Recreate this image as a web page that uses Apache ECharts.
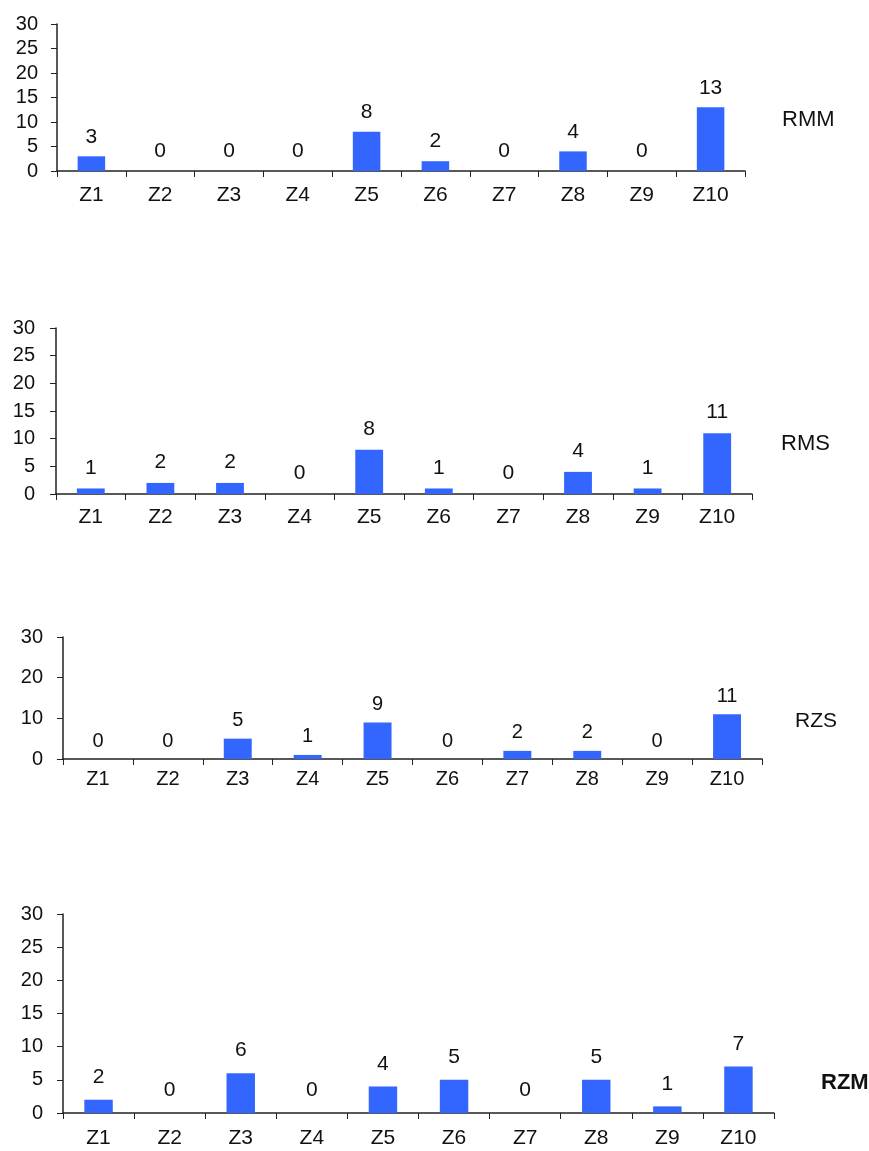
<!DOCTYPE html>
<html><head><meta charset="utf-8">
<script src="https://cdn.jsdelivr.net/npm/echarts@6/dist/echarts.min.js"></script>
<style>html,body{margin:0;padding:0;background:#fff}#c{width:869px;height:1151px}</style>
</head><body><div id="c"></div>
<script>
const categories = ['Z1','Z2','Z3','Z4','Z5','Z6','Z7','Z8','Z9','Z10'];
const panelNames = ['RMM','RMS','RZS','RZM'];
const rmm = [3,0,0,0,8,2,0,4,0,13];
const rms = [1,2,2,0,8,1,0,4,1,11];
const rzs = [0,0,5,1,9,0,2,2,0,11];
const rzm = [2,0,6,0,4,5,0,5,1,7];
const yIntervals = [5,5,10,5];
const yMax = 30;

const seriesData = [rmm, rms, rzs, rzm];
const layout = [
  {left:57, width:688, top:24, height:147, yf:20, xf:21, vf:21, dist:9, xm:14, ym:19, name:{x:782,y:121,f:22,bold:false}},
  {left:56, width:696, top:328, height:166, yf:20, xf:21, vf:21, dist:10, xm:13, ym:21, name:{x:781,y:445,f:22,bold:false}},
  {left:63, width:699, top:637, height:122, yf:20, xf:20, vf:20, dist:8, xm:10, ym:20, name:{x:795,y:722,f:21,bold:false}},
  {left:63, width:711, top:914, height:199, yf:20, xf:21, vf:21, dist:12, xm:15, ym:20, name:{x:821,y:1084,f:22,bold:true}}
];
const axisColor = '#222';
const textColor = '#111';
const ff = 'Liberation Sans, Arial, sans-serif';

const option = {
  animation:false,
  grid: layout.map(l=>({left:l.left, width:l.width, top:l.top, height:l.height})),
  xAxis: layout.map((l,i)=>({
    type:'category', gridIndex:i, data:categories,
    axisLine:{lineStyle:{color:axisColor,width:1.5}},
    axisTick:{show:true, length:6, lineStyle:{color:axisColor}},
    axisLabel:{color:textColor, fontSize:l.xf, fontFamily:ff, margin:l.xm}
  })),
  yAxis: layout.map((l,i)=>({
    type:'value', gridIndex:i, min:0, max:yMax, interval:yIntervals[i],
    splitLine:{show:false},
    axisLine:{show:true, lineStyle:{color:axisColor,width:1.5}},
    axisTick:{show:true, length:6, lineStyle:{color:axisColor}},
    axisLabel:{color:textColor, fontSize:l.yf, fontFamily:ff, margin:l.ym}
  })),
  series: seriesData.map((d,i)=>({
    type:'bar', xAxisIndex:i, yAxisIndex:i, data:d, barWidth:'40%',
    itemStyle:{color:'#3366FF'},
    label:{show:true, position:'top', distance:layout[i].dist, color:textColor, fontSize:layout[i].vf, fontFamily:ff}
  })),
  graphic: layout.map((l,i)=>({
    type:'text', left:l.name.x, top:l.name.y - l.name.f/2 - 1,
    style:{text:panelNames[i], fill:textColor, font:(l.name.bold?'bold ':'')+l.name.f+'px '+ff}
  }))
};
echarts.init(document.getElementById('c')).setOption(option);
</script></body></html>
